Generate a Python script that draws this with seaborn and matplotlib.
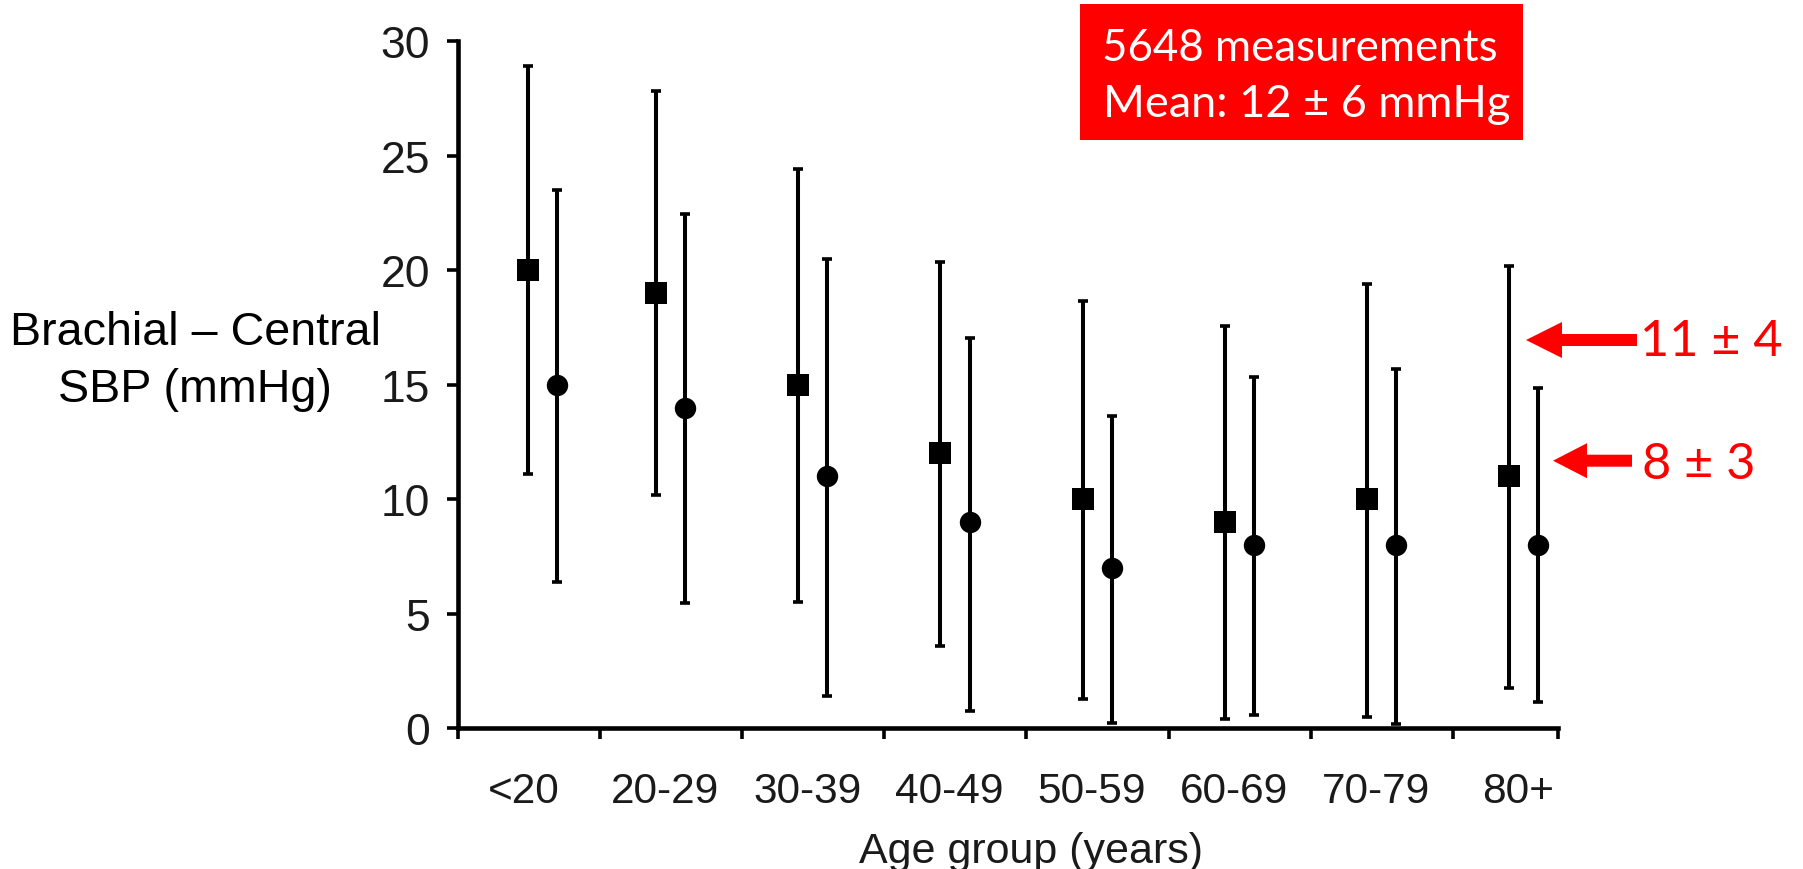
import numpy as np
import pandas as pd
import matplotlib
matplotlib.use("Agg")
import matplotlib.pyplot as plt
import seaborn as sns
from matplotlib.patches import Rectangle, FancyArrow
from matplotlib.transforms import IdentityTransform

# ---------------- data ----------------
age_groups = ["<20", "20-29", "30-39", "40-49", "50-59", "60-69", "70-79", "80+"]
brachial_mean = [20, 19, 15, 12, 10, 9, 10, 11]            # squares
brachial_low = [11.1, 10.2, 5.5, 3.6, 1.3, 0.4, 0.5, 1.75]
brachial_high = [28.9, 27.8, 24.4, 20.35, 18.65, 17.55, 19.4, 20.2]
central_mean = [15, 14, 11, 9, 7, 8, 8, 8]                 # circles
central_low = [6.4, 5.45, 1.4, 0.75, 0.25, 0.6, 0.2, 1.15]
central_high = [23.5, 22.45, 20.5, 17.05, 13.65, 15.35, 15.7, 14.85]
y_ticks = [0, 5, 10, 15, 20, 25, 30]
box_lines = ["5648 measurements", "Mean: 12 \u00b1 6 mmHg"]
arrow_labels = ["11 \u00b1 4", "8 \u00b1 3"]
y_label = "Brachial \u2013 Central\nSBP (mmHg)"
x_label = "Age group (years)"

# ---------------- style ----------------
sns.set_theme(style="ticks")
plt.rcParams["font.family"] = ["Liberation Sans", "DejaVu Sans"]

W, H = 1803, 870
fig = plt.figure(figsize=(W / 100, H / 100), dpi=100)
fig.patch.set_facecolor("white")

# axes placement (pixels -> figure fraction)
ax_left, ax_right, ax_bottom, ax_top = 458, 1558, 729.3, 42.0
ax = fig.add_axes([ax_left / W, (H - ax_bottom) / H,
                   (ax_right - ax_left) / W, (ax_bottom - ax_top) / H])
ax.set_facecolor("white")

n = len(age_groups)
idx = np.arange(n)
first_shift = np.where(idx == 0, 0.10, 0.0)
df = pd.DataFrame({
    "group": age_groups,
    "x_sq": idx + 0.395 + first_shift,
    "x_ci": idx + 0.60 + first_shift,
    "b_mean": brachial_mean, "b_low": brachial_low, "b_high": brachial_high,
    "c_mean": central_mean, "c_low": central_low, "c_high": central_high,
})

def draw_bars(x, m, lo, hi):
    m = np.asarray(m, float)
    err = [m - np.asarray(lo, float), np.asarray(hi, float) - m]
    cont = ax.errorbar(x, m, yerr=err, fmt="none", ecolor="black",
                       elinewidth=2.9, capsize=3.8, capthick=2.6, zorder=3)
    for art in list(cont.lines[1]) + list(cont.lines[2]):
        art.set_clip_on(False)

draw_bars(df["x_sq"], df["b_mean"], df["b_low"], df["b_high"])
draw_bars(df["x_ci"], df["c_mean"], df["c_low"], df["c_high"])

sns.scatterplot(data=df, x="x_sq", y="b_mean", marker="s", s=15.6 ** 2,
                color="black", linewidth=0, ax=ax, zorder=4, clip_on=False,
                legend=False)
sns.scatterplot(data=df, x="x_ci", y="c_mean", marker="o", s=15.4 ** 2,
                color="black", linewidth=0, ax=ax, zorder=4, clip_on=False,
                legend=False)

x_end = (ax_right - ax_left) / 142.1
ax.set_xlim(0, x_end)
ax.set_ylim(0, 30)

# spines
sns.despine(ax=ax)
for sp in ["left", "bottom"]:
    ax.spines[sp].set_linewidth(3.3)
    ax.spines[sp].set_color("black")

# ticks
ax.set_yticks(y_ticks)
ax.set_yticklabels([str(v) for v in y_ticks])
ax.tick_params(axis="y", length=8, width=2.6, pad=12, labelsize=32,
               color="black", labelcolor="#1a1a1a")
ax.set_xticks(list(range(n)) + [x_end])
ax.set_xticklabels([""] * (n + 1))
ax.set_xticks(idx + 0.46, minor=True)
ax.set_xticklabels(age_groups, minor=True)
ax.tick_params(axis="x", which="major", length=8, width=2.6, color="black")
ax.tick_params(axis="x", which="minor", length=0, pad=30.5, labelsize=30.5,
               labelcolor="#1a1a1a")

# axis labels
ax.set_xlabel(x_label, fontsize=31, color="#1a1a1a", va="baseline")
ax.xaxis.set_label_coords((1031 - ax_left) / (ax_right - ax_left),
                          (ax_bottom - 863) / (ax_bottom - ax_top))
ax.set_ylabel(y_label, rotation=0, fontsize=33.6, color="black",
              ha="center", va="center", linespacing=1.40,
              multialignment="center")
ax.yaxis.set_label_coords((195 - ax_left) / (ax_right - ax_left),
                          (ax_bottom - 361.6) / (ax_bottom - ax_top))

# red info box
fig.add_artist(Rectangle((1080 / W, (H - 141) / H), 443 / W, 136 / H,
                         transform=fig.transFigure, facecolor="#ff0000",
                         edgecolor="none", zorder=5))

label_font = ["Lato", "DejaVu Sans"]
renderer = fig.canvas.get_renderer()

def fitted_text(x_px, base_px, s, width_px, color, size=None):
    t = fig.text(x_px / W, (H - base_px) / H, s, color=color,
                 family=label_font, fontsize=30 if size is None else size,
                 ha="left", va="baseline", zorder=6)
    if size is None:
        w = t.get_window_extent(renderer=renderer).width
        t.set_fontsize(30 * width_px / w)
    return t

fitted_text(1102, 60.7, box_lines[0], 395, "white")
fitted_text(1103, 117, box_lines[1], 407, "white")

# red arrows with labels
a1 = fitted_text(1640, 356, arrow_labels[0], 143, "#ff0000")
fitted_text(1642, 479, arrow_labels[1], 118, "#ff0000", size=a1.get_fontsize())

for tail, tip, yc, hl, hw in [(1637, 1526, 341, 36, 36), (1632, 1553, 461.7, 34, 35)]:
    fig.add_artist(FancyArrow(tail, H - yc, tip - tail, 0, width=12,
                              head_width=hw, head_length=hl,
                              length_includes_head=True,
                              transform=IdentityTransform(),
                              facecolor="#ff0000", edgecolor="none", zorder=6))

fig.savefig("out.png", dpi=100, facecolor="white")
